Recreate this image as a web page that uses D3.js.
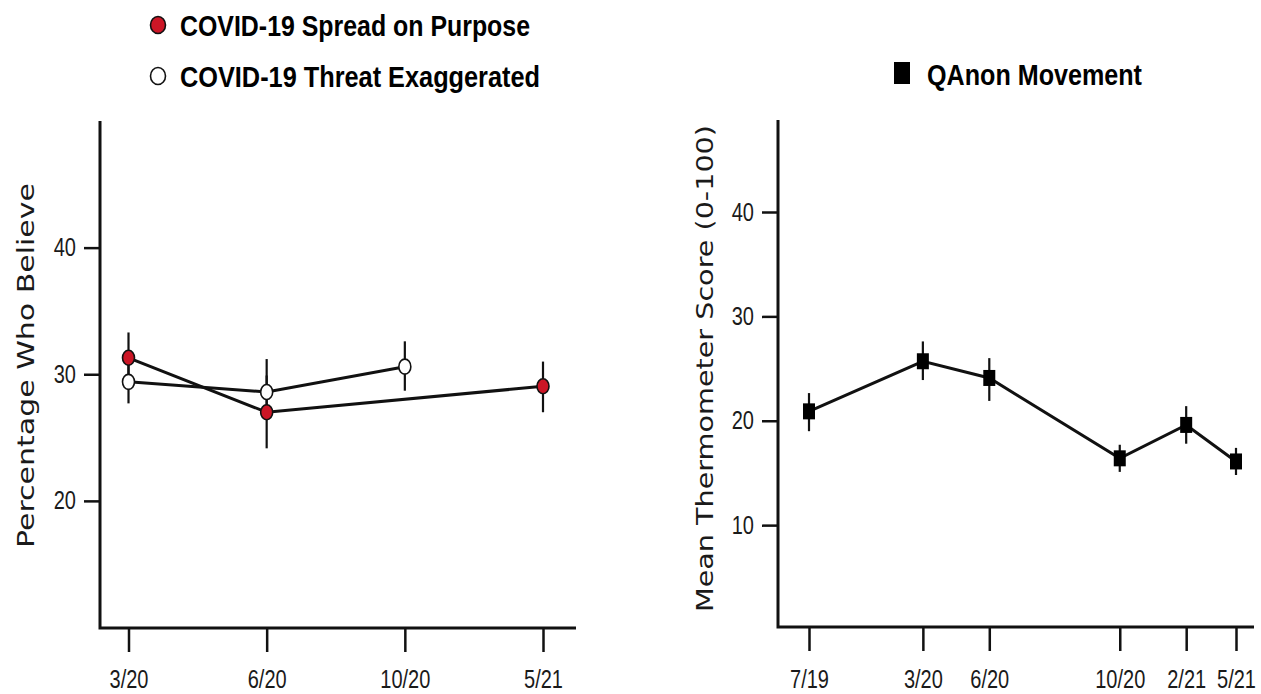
<!DOCTYPE html>
<html>
<head>
<meta charset="utf-8">
<script src="https://cdn.jsdelivr.net/npm/d3@7"></script>
<style>
  body { margin: 0; background: #fff; }
  svg { display: block; }
  .tick text { font-family: "Liberation Sans", Arial, sans-serif; font-size: 25px; fill: #1a1a1a; }
  .legend { font-family: "Liberation Sans", Arial, sans-serif; font-weight: bold; font-size: 29px; fill: #000; }
  .ytitle { font-family: "DejaVu Sans", sans-serif; font-size: 23px; fill: #1a1a1a; }
</style>
</head>
<body>
<svg id="chart" width="1261" height="694"></svg>
<script>
// Left panel: conspiracy beliefs (percent who believe)
const leftWaves = ["3/20", "6/20", "10/20", "5/21"];
const spreadMean = [31.3, 27.0, null, 29.05];
const spreadLow = [29.4, 24.15, null, 27.0];
const spreadHigh = [33.3, 29.9, null, 31.0];
const threatMean = [29.4, 28.6, 30.6, null];
const threatLow = [27.7, 26.6, 28.7, null];
const threatHigh = [31.1, 31.2, 32.6, null];

// Right panel: QAnon thermometer
const rightWaves = ["7/19", "3/20", "6/20", "10/20", "2/21", "5/21"];
const rightWavePos = [0, 2.4, 3.8, 6.55, 7.95, 9];
const qanonMean = [20.9, 25.7, 24.1, 16.4, 19.6, 16.1];
const qanonLow = [19.0, 23.9, 21.9, 15.1, 17.8, 14.8];
const qanonHigh = [22.65, 27.6, 26.0, 17.7, 21.4, 17.4];

const leftTicks = [20, 30, 40];
const rightTicks = [10, 20, 30, 40];

const svg = d3.select("#chart");
const red = "#cc1626";

function rows(labels, mean, low, high) {
  return labels
    .map((w, i) => ({ wave: w, idx: i, mean: mean[i], low: low[i], high: high[i] }))
    .filter((d) => d.mean != null);
}

// squeeze tick labels to a condensed look
function styleAxis(g) {
  g.select(".domain").remove();
  g.selectAll(".tick line").attr("stroke", "#111").attr("stroke-width", 2.5);
  g.selectAll(".tick text").each(function () {
    const len = this.getComputedTextLength();
    d3.select(this).attr("textLength", len * 0.8).attr("lengthAdjust", "spacingAndGlyphs");
  });
}

// ---------- left panel ----------
const xL = d3.scalePoint().domain(leftWaves).range([128.5, 543]);
const yL = d3.scaleLinear().domain([10, 50]).range([627.5, 121]);

svg.append("g")
  .attr("transform", "translate(100,0)")
  .call(d3.axisLeft(yL).tickValues(leftTicks).tickSize(16).tickPadding(8))
  .call(styleAxis);

svg.append("g")
  .attr("transform", "translate(0,628)")
  .call(d3.axisBottom(xL).tickSize(24).tickPadding(18))
  .call(styleAxis);

// axis frame
svg.append("path")
  .attr("d", "M100,121V628H576")
  .attr("fill", "none")
  .attr("stroke", "#111")
  .attr("stroke-width", 3);

svg.append("text")
  .attr("class", "ytitle")
  .attr("transform", "translate(34,365.5) rotate(-90)")
  .attr("text-anchor", "middle")
  .attr("textLength", 365)
  .attr("lengthAdjust", "spacingAndGlyphs")
  .text("Percentage Who Believe");

const spread = rows(leftWaves, spreadMean, spreadLow, spreadHigh);
const threat = rows(leftWaves, threatMean, threatLow, threatHigh);

const lineL = d3.line().x((d) => xL(d.wave)).y((d) => yL(d.mean));

const gL = svg.append("g");
[spread, threat].forEach((series) => {
  gL.append("g")
    .selectAll("line")
    .data(series)
    .join("line")
    .attr("x1", (d) => xL(d.wave))
    .attr("x2", (d) => xL(d.wave))
    .attr("y1", (d) => yL(d.low))
    .attr("y2", (d) => yL(d.high))
    .attr("stroke", "#111")
    .attr("stroke-width", 2.2);
});
[spread, threat].forEach((series) => {
  gL.append("path")
    .datum(series)
    .attr("d", lineL)
    .attr("fill", "none")
    .attr("stroke", "#111")
    .attr("stroke-width", 3);
});
[[threat, "#fff"], [spread, red]].forEach(([series, fill]) => {
  gL.append("g")
    .selectAll("ellipse")
    .data(series)
    .join("ellipse")
    .attr("cx", (d) => xL(d.wave))
    .attr("cy", (d) => yL(d.mean))
    .attr("rx", 6)
    .attr("ry", 7.5)
    .attr("fill", fill)
    .attr("stroke", "#111")
    .attr("stroke-width", 1.6);
});

// legend left
const legendL = [
  { label: "COVID-19 Spread on Purpose", fill: red, len: 350 },
  { label: "COVID-19 Threat Exaggerated", fill: "#fff", len: 360 },
];
legendL.forEach((d, i) => {
  const cy = 25 + i * 51;
  svg.append("ellipse")
    .attr("cx", 158).attr("cy", cy).attr("rx", 7.5).attr("ry", 8.5)
    .attr("fill", d.fill).attr("stroke", "#111").attr("stroke-width", 1.6);
  svg.append("text")
    .attr("class", "legend")
    .attr("x", 180).attr("y", cy + 10.5)
    .attr("textLength", d.len)
    .attr("lengthAdjust", "spacingAndGlyphs")
    .text(d.label);
});

// ---------- right panel ----------
const xR = d3.scaleLinear().domain([0, 9]).range([809, 1236]);
const yR = d3.scaleLinear().domain([0, 40]).range([629.5, 212]);

svg.append("g")
  .attr("transform", "translate(778,0)")
  .call(d3.axisLeft(yR).tickValues(rightTicks).tickSize(16).tickPadding(8))
  .call(styleAxis);

svg.append("g")
  .attr("transform", "translate(0,627)")
  .call(
    d3.axisBottom(xR)
      .tickValues(rightWavePos)
      .tickFormat((d, i) => rightWaves[i])
      .tickSize(24)
      .tickPadding(19)
  )
  .call(styleAxis);

svg.append("path")
  .attr("d", "M778,120V627H1254")
  .attr("fill", "none")
  .attr("stroke", "#111")
  .attr("stroke-width", 3);

svg.append("text")
  .attr("class", "ytitle")
  .attr("transform", "translate(713,368.5) rotate(-90)")
  .attr("text-anchor", "middle")
  .attr("textLength", 487)
  .attr("lengthAdjust", "spacingAndGlyphs")
  .text("Mean Thermometer Score (0-100)");

const qanon = rightWaves.map((w, i) => ({
  pos: rightWavePos[i], mean: qanonMean[i], low: qanonLow[i], high: qanonHigh[i],
}));

const gR = svg.append("g");
gR.append("g")
  .selectAll("line")
  .data(qanon)
  .join("line")
  .attr("x1", (d) => xR(d.pos))
  .attr("x2", (d) => xR(d.pos))
  .attr("y1", (d) => yR(d.low))
  .attr("y2", (d) => yR(d.high))
  .attr("stroke", "#111")
  .attr("stroke-width", 2.2);

gR.append("path")
  .datum(qanon)
  .attr("d", d3.line().x((d) => xR(d.pos)).y((d) => yR(d.mean)))
  .attr("fill", "none")
  .attr("stroke", "#111")
  .attr("stroke-width", 3);

gR.append("g")
  .selectAll("rect")
  .data(qanon)
  .join("rect")
  .attr("x", (d) => xR(d.pos) - 6)
  .attr("y", (d) => yR(d.mean) - 8)
  .attr("width", 12)
  .attr("height", 16)
  .attr("fill", "#000");

// legend right
svg.append("rect")
  .attr("x", 894).attr("y", 62).attr("width", 16).attr("height", 22)
  .attr("fill", "#000");
svg.append("text")
  .attr("class", "legend")
  .attr("x", 927).attr("y", 85)
  .attr("textLength", 215)
  .attr("lengthAdjust", "spacingAndGlyphs")
  .text("QAnon Movement");
</script>
</body>
</html>
